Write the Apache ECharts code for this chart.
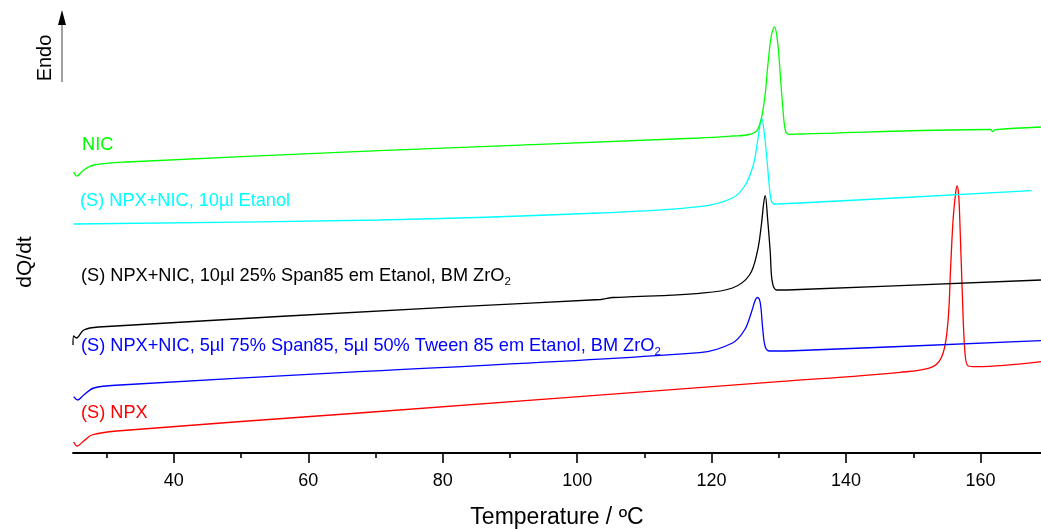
<!DOCTYPE html>
<html>
<head>
<meta charset="utf-8">
<script src="https://cdn.jsdelivr.net/npm/echarts@6/dist/echarts.min.js"></script>
<style>
html,body{margin:0;padding:0;background:#fff;}
#chart{width:1041px;height:529px;}
</style>
</head>
<body>
<div id="chart"></div>
<script>
// Temperature (°C) and heat flow (arbitrary units, endo up)
const nicT = [25.1, 25.55, 26.6, 28.1, 33, 70.5, 118.2, 123.1, 125.6, 126.9, 127.8, 128.4, 128.9, 129.36, 129.8, 130.2, 130.6, 131.0, 131.6, 133.1, 161.5, 161.8, 162.2, 169];
const nicV = [281, 277, 283, 288, 291, 302.3, 315, 317, 318.5, 324, 350, 390, 418, 426, 412, 380, 345, 322, 318.7, 319, 323.5, 321.5, 323.3, 326];

const etaT = [25.1, 70.5, 103.3, 118.2, 123.1, 125.0, 126.2, 126.8, 127.2, 127.47, 127.8, 128.2, 128.6, 128.9, 129.36, 133.1, 167.6];
const etaV = [229, 233, 240, 246.3, 255, 268, 288, 310, 328, 334.7, 322, 296, 266, 252, 249, 250, 262.3];

const spanT = [25.0, 25.1, 25.5, 26.6, 28.8, 82.45, 103.5, 105.3, 107, 118.2, 123.1, 125.64, 126.8, 127.4, 127.75, 127.98, 128.32, 128.72, 129.02, 129.66, 133.1, 169];
const spanV = [108, 117, 115, 123, 126, 146.3, 153.5, 155.5, 155.8, 159.7, 165, 178, 201.3, 228, 250, 257.3, 235, 201.3, 171.3, 163, 163.5, 173];

const tweenT = [25.1, 25.7, 26.6, 28.1, 32, 67.55, 118.2, 123.1, 124.9, 125.89, 126.5, 126.83, 127.24, 127.62, 127.98, 128.62, 133.1, 169];
const tweenV = [56.3, 53, 58, 65, 68, 81.3, 100.3, 110, 123, 140, 153, 155.5, 150, 123, 106.3, 102, 102.5, 112.3];

const npxT = [25.1, 25.6, 26.6, 27.8, 31.5, 67.55, 130, 148, 152.94, 154.43, 155.18, 155.54, 155.92, 156.3, 156.52, 156.75, 156.92, 157.26, 157.66, 158.16, 159.41, 169];
const npxV = [11, 7, 12, 18, 22, 40, 71.4, 80.7, 86.3, 99.7, 133, 183, 233, 260, 267, 258, 233, 166.3, 103, 87, 86.3, 91.3];

const majorTicks = [40, 60, 80, 100, 120, 140, 160];
const minorTicks = [30, 50, 70, 90, 110, 130, 150];

const seriesNames = ['NIC', '(S) NPX+NIC, 10µl Etanol', '(S) NPX+NIC, 10µl 25% Span85 em Etanol, BM ZrO2', '(S) NPX+NIC, 5µl 75% Span85, 5µl 50% Tween 85 em Etanol, BM ZrO2', '(S) NPX'];
const labelTexts = ['NIC', '(S) NPX+NIC, 10µl Etanol', '(S) NPX+NIC, 10µl 25% Span85 em Etanol, BM ZrO{sub|2}', '(S) NPX+NIC, 5µl 75% Span85, 5µl 50% Tween 85 em Etanol, BM ZrO{sub|2}', '(S) NPX'];
const colors = ['#00ff00', '#00ffff', '#000000', '#0000ff', '#ff0000'];

const zip = (a, b) => a.map((t, i) => [t, b[i]]);
const dataSets = [zip(nicT, nicV), zip(etaT, etaV), zip(spanT, spanV), zip(tweenT, tweenV), zip(npxT, npxV)];

const FONT = "'Liberation Sans', Arial, Helvetica, sans-serif";
const labelPos = [[82, 145], [80, 201], [81, 276], [81, 346], [81, 413]];

const chart = echarts.init(document.getElementById('chart'), null, {renderer: 'canvas'});

const graphics = labelTexts.map((txt, i) => ({
  type: 'text',
  x: labelPos[i][0],
  y: labelPos[i][1],
  style: {
    text: txt,
    fill: colors[i],
    font: '18.2px ' + FONT,
    align: 'left',
    verticalAlign: 'middle',
    rich: {
      sub: {fontSize: 11.5, fontFamily: FONT, fill: colors[i], verticalAlign: 'bottom', lineHeight: 24}
    },
    lineHeight: 24
  }
}));

graphics.push(
  {type: 'text', x: 25, y: 262, rotation: Math.PI / 2,
   style: {text: 'dQ/dt', fill: '#000', font: '21px ' + FONT, align: 'center', verticalAlign: 'middle'}},
  {type: 'text', x: 45, y: 58, rotation: Math.PI / 2,
   style: {text: 'Endo', fill: '#000', font: '20px ' + FONT, align: 'center', verticalAlign: 'middle'}},
  {type: 'line', shape: {x1: 62, y1: 82, x2: 62, y2: 22}, style: {stroke: '#444', lineWidth: 1}},
  {type: 'polygon', shape: {points: [[62, 10], [58, 25], [66, 25]]}, style: {fill: '#000'}}
);

chart.setOption({
  animation: false,
  backgroundColor: '#fff',
  grid: {left: 73, right: 0, top: 0, bottom: 76, containLabel: false, outerBoundsMode: 'none'},
  xAxis: [{
    type: 'value', min: 25, max: 169, position: 'bottom',
    name: 'Temperature / ºC', nameLocation: 'middle', nameGap: 53,
    nameTextStyle: {fontSize: 23, color: '#000', fontFamily: FONT},
    axisLine: {show: true, lineStyle: {color: '#000', width: 1.8}},
    axisTick: {show: true, customValues: majorTicks, length: 10, lineStyle: {color: '#000', width: 1.6}},
    axisLabel: {show: true, customValues: majorTicks, fontSize: 18, color: '#000', fontFamily: FONT, margin: 19},
    splitLine: {show: false}
  }, {
    type: 'value', min: 25, max: 169, position: 'bottom', gridIndex: 0,
    axisLine: {show: false},
    axisTick: {show: true, customValues: minorTicks, length: 5, lineStyle: {color: '#000', width: 1.6}},
    axisLabel: {show: false},
    splitLine: {show: false}
  }],
  yAxis: {type: 'value', min: 0, max: 453, show: false},
  series: dataSets.map((d, i) => ({
    name: seriesNames[i],
    type: 'line',
    xAxisIndex: 0,
    data: d,
    showSymbol: false,
    smooth: 0.35,
    lineStyle: {color: colors[i], width: 1.3},
    itemStyle: {color: colors[i]},
    z: 10 - i
  })),
  graphic: graphics
});
</script>
</body>
</html>
